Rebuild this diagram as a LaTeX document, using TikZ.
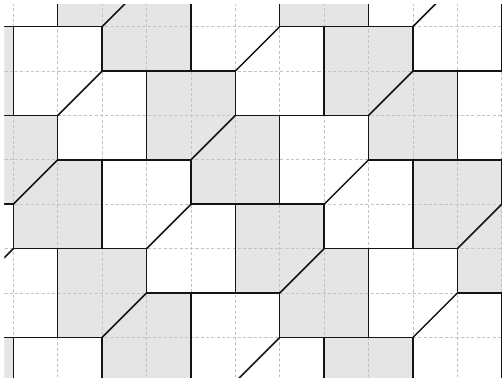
\documentclass[tikz,border=0pt]{standalone}
\usepackage{xcolor}
\usepackage{tikz}
\definecolor{mydark}{RGB}{20,20,20}
\definecolor{tilegray}{RGB}{229,229,229}
\definecolor{gridgray}{RGB}{195,195,195}
\tikzset{
  tileedge/.style={draw=mydark, line width=1pt, line join=miter},
  gridline/.style={draw=gridgray, line width=0.5pt, dash pattern=on 2pt off 1.4pt}
}

\begin{document}
\begin{tikzpicture}
  % page size and visible window
  \useasboundingbox (-0.3,-7.98) rectangle (11.007,0.601);
  \clip (-0.2,-7.9) rectangle (11.03,0.5);

  % Gray hexagons (top-left corner of each)
  \foreach \x/\y in {1/2, -3/1, 5/3, 3/-1, 7/0, -1/-2, 9/-3, 1/-5, 5/-4, -3/-6, 7/-7}
    \fill[tilegray] (\x,\y) -- ++(2,0) -- ++(0,-1) -- ++(1,0) -- ++(0,-2) -- ++(-2,0) -- ++(0,1) -- ++(-1,0) -- cycle;

  % Dashed unit grid
  \draw[gridline] (-0.2,-7.9) grid (11.03,0.5);

  % Outlines of all hexagons, each cut in two by a diagonal
  \foreach \x/\y in {0/0, 4/1, -2/3, 8/2, 10/-1, 2/-3, 6/-2, -2/-4, 8/-5, 0/-7, 4/-6,
                     1/2, -3/1, 5/3, 3/-1, 7/0, -1/-2, 9/-3, 1/-5, 5/-4, -3/-6, 7/-7}
  {
    \draw[tileedge] (\x,\y) -- ++(2,0) -- ++(0,-1) -- ++(1,0) -- ++(0,-2) -- ++(-2,0) -- ++(0,1) -- ++(-1,0) -- cycle;
    \draw[tileedge] (\x,\y) ++(2,-1) -- ++(-1,-1); % diagonal cut
  }
\end{tikzpicture}
\end{document}
